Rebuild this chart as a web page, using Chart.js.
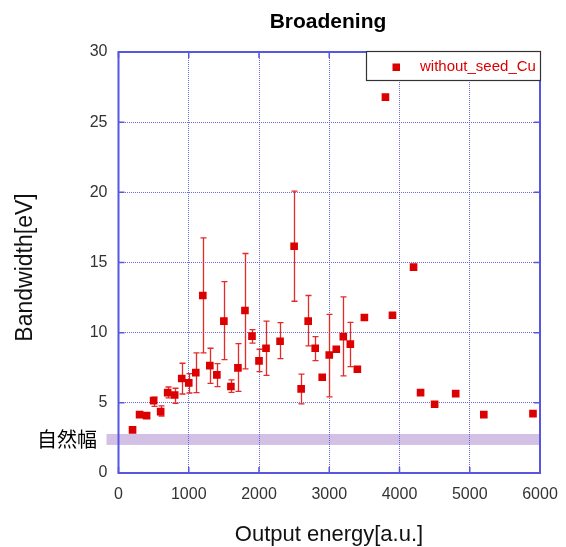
<!DOCTYPE html>
<html>
<head>
<meta charset="utf-8">
<script src="https://cdn.jsdelivr.net/npm/chart.js@4"></script>
<style>
html,body{margin:0;padding:0;background:#fff;}
#wrap{width:566px;height:547px;position:relative;}
</style>
</head>
<body>
<div id="wrap"><canvas id="c" width="566" height="547"></canvas></div>
<script>
// ---- data ----
const seriesName = "without_seed_Cu";
const outputEnergy = [200,300,400,500,600,700,800,900,1000,1100,1200,1300,1400,1500,1600,1700,1800,1900,2000,2100,2300,2500,2600,2700,2800,2900,3000,3100,3200,3300,3400,3500,3800,3900,4200,4300,4500,4800,5200,5900];
const bandwidth = [3.07,4.16,4.09,5.16,4.37,5.73,5.56,6.73,6.42,7.15,12.65,7.65,6.99,10.82,6.16,7.49,11.58,9.75,7.99,8.89,9.39,16.16,5.99,10.82,8.89,6.82,8.41,8.82,9.72,9.18,7.39,11.08,26.78,11.24,14.67,5.73,4.90,5.66,4.16,4.23];
const errLow = [null,null,null,4.75,4.06,5.35,4.97,5.63,5.70,5.73,8.56,6.39,6.16,8.08,5.75,5.82,7.42,9.25,7.23,6.96,8.15,12.24,4.92,9.06,8.01,null,5.42,null,6.92,7.58,null,null,null,null,null,null,null,null,null,null];
const errHigh = [null,null,null,5.40,4.78,6.13,6.04,7.82,7.08,8.56,16.76,8.89,7.80,13.64,6.63,9.22,15.64,10.22,8.82,10.82,10.72,20.09,7.04,12.65,9.72,null,11.31,null,12.55,10.74,null,null,null,null,null,null,null,null,null,null];
const naturalWidth = [2.0, 2.78];   // band (low, high) in eV
const naturalLabel = "自然幅";
const xTicks = [0,1000,2000,3000,4000,5000,6000];
const yTicks = [0,5,10,15,20,25,30];
const titleText = "Broadening";
const xTitle = "Output energy[a.u.]";
const yTitle = "Bandwidth[eV]";

const RED = '#dd0000';
const AXIS = '#5656e2';
const FONT = '"Liberation Sans", Arial, sans-serif';

const points = outputEnergy.map((x,i)=>({x:x, y:bandwidth[i]}));

const decor = {
  id:'decor',
  beforeDraw(chart){
    const {ctx, chartArea:a, scales:{y}} = chart;
    ctx.save();
    ctx.fillStyle = '#d3c1e5';
    const yt = y.getPixelForValue(naturalWidth[1]);
    const yb = y.getPixelForValue(naturalWidth[0]);
    ctx.fillRect(a.left-12, yt, a.right-(a.left-12), yb-yt);
    ctx.restore();
  },
  beforeDatasetsDraw(chart){
    const {ctx, scales:{x,y}} = chart;
    ctx.save();
    ctx.strokeStyle = '#e52a2a';
    ctx.lineWidth = 1.3;
    for(let i=0;i<outputEnergy.length;i++){
      if(errLow[i]==null) continue;
      const px = Math.round(x.getPixelForValue(outputEnergy[i]))+0.5;
      const y1 = y.getPixelForValue(errLow[i]);
      const y2 = y.getPixelForValue(errHigh[i]);
      ctx.beginPath();
      ctx.moveTo(px,y1); ctx.lineTo(px,y2);
      ctx.moveTo(px-3,y1); ctx.lineTo(px+3,y1);
      ctx.moveTo(px-3,y2); ctx.lineTo(px+3,y2);
      ctx.stroke();
    }
    ctx.restore();
  },
  afterDraw(chart){
    const {ctx, chartArea:a, scales:{x,y}} = chart;
    ctx.save();
    // frame
    ctx.strokeStyle = AXIS;
    ctx.lineWidth = 2;
    ctx.strokeRect(a.left, a.top, a.right-a.left, a.bottom-a.top);
    // inward ticks
    ctx.lineWidth = 1.5;
    ctx.beginPath();
    xTicks.forEach(v=>{
      const px = x.getPixelForValue(v);
      ctx.moveTo(px,a.bottom); ctx.lineTo(px,a.bottom-6);
      ctx.moveTo(px,a.top); ctx.lineTo(px,a.top+6);
    });
    yTicks.forEach(v=>{
      const py = y.getPixelForValue(v);
      ctx.moveTo(a.left,py); ctx.lineTo(a.left+6,py);
      ctx.moveTo(a.right,py); ctx.lineTo(a.right-6,py);
    });
    ctx.stroke();
    // legend
    const lx=366.5, ly=51.5, lw=174, lh=29;
    ctx.fillStyle='#fff';
    ctx.fillRect(lx,ly,lw,lh);
    ctx.strokeStyle='#333';
    ctx.lineWidth=1.2;
    ctx.strokeRect(lx,ly,lw,lh);
    ctx.fillStyle=RED;
    ctx.fillRect(392.5,63.5,7.5,7.5);
    ctx.font = '15px '+FONT;
    ctx.textAlign='left'; ctx.textBaseline='middle';
    ctx.fillText(seriesName, 420, 67);
    // title
    ctx.fillStyle='#000';
    ctx.font = 'bold 21px '+FONT;
    ctx.textAlign='center'; ctx.textBaseline='alphabetic';
    ctx.fillText(titleText, 328, 28);
    // x title
    ctx.fillStyle='#111';
    ctx.font = '22px '+FONT;
    ctx.fillText(xTitle, 329, 541);
    // y title
    ctx.save();
    ctx.translate(32, 267.5);
    ctx.rotate(-Math.PI/2);
    ctx.font = '23px '+FONT;
    ctx.fillText(yTitle, 0, 0);
    ctx.restore();
    // natural width label
    ctx.fillStyle='#000';
    ctx.font = '20px "Noto Sans CJK JP", sans-serif';
    ctx.textAlign='right'; ctx.textBaseline='middle';
    ctx.fillText(naturalLabel, 97, 439);
    ctx.restore();
  }
};

new Chart(document.getElementById('c'), {
  type:'scatter',
  data:{datasets:[{
    label:seriesName,
    data:points,
    pointStyle:'rect',
    pointRadius:5.4,
    pointHoverRadius:5.4,
    borderWidth:0,
    backgroundColor:RED,
    borderColor:RED
  }]},
  options:{
    responsive:false,
    animation:false,
    events:[],
    layout:{padding:{top:52,right:26,left:0,bottom:0}},
    plugins:{legend:{display:false},title:{display:false},tooltip:{enabled:false}},
    scales:{
      x:{
        type:'linear', min:0, max:6000,
        afterBuildTicks(s){ s.ticks = xTicks.map(v=>({value:v})); },
        afterFit(s){ s.height = 74; s.paddingLeft = 0; s.paddingRight = 0; },
        ticks:{color:'#333', font:{family:FONT,size:16}, padding:12, maxRotation:0,
               callback:(v)=>String(v)},
        grid:{color:'rgba(70,70,225,0.8)', lineWidth:1, drawTicks:false},
        border:{display:false, dash:[1,1]}
      },
      y:{
        type:'linear', min:0, max:30,
        afterBuildTicks(s){ s.ticks = yTicks.map(v=>({value:v})); },
        afterFit(s){ s.width = 118.5; s.paddingTop = 0; s.paddingBottom = 0; },
        ticks:{color:'#333', font:{family:FONT,size:16}, padding:11,
               callback:(v)=>String(v)},
        grid:{color:'rgba(70,70,225,0.8)', lineWidth:1, drawTicks:false},
        border:{display:false, dash:[1,1]}
      }
    }
  },
  plugins:[decor]
});
</script>
</body>
</html>
